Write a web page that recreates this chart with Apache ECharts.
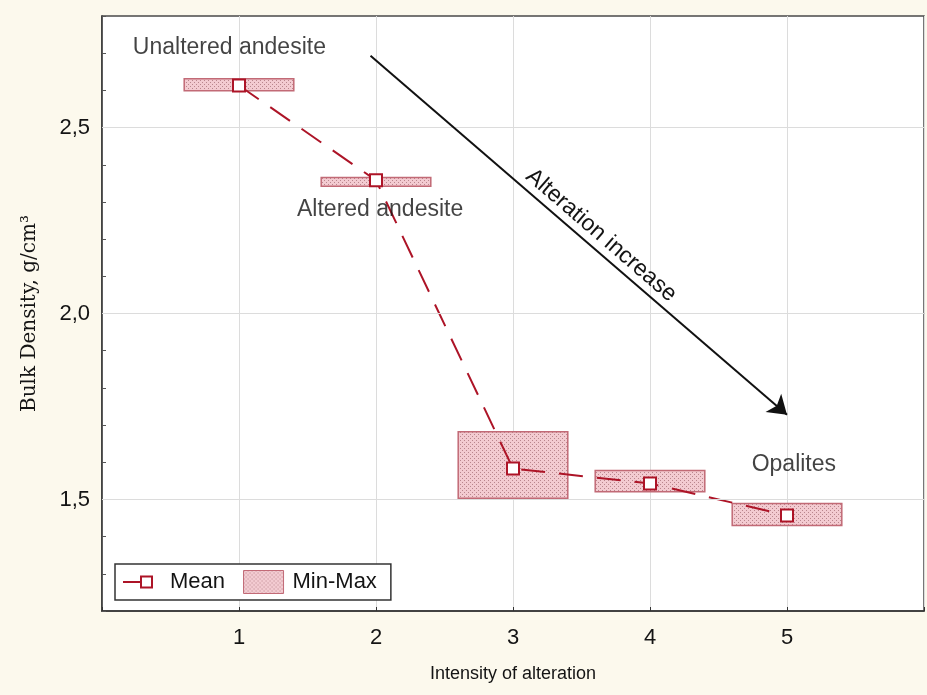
<!DOCTYPE html>
<html>
<head>
<meta charset="utf-8">
<title>Bulk density vs intensity of alteration</title>
<script src="https://cdn.jsdelivr.net/npm/echarts@6/dist/echarts.min.js"></script>
<style>
  html, body { margin: 0; padding: 0; background: #fcf9ed; }
  #chart { width: 927px; height: 695px; }
</style>
</head>
<body>
<div id="chart"></div>
<script>
// Intensity of alteration classes (1 = unaltered andesite ... 5 = opalites)
const intensity = [1, 2, 3, 4, 5];
// Bulk density, g/cm3
const meanDensity = [2.613, 2.358, 1.583, 1.543, 1.457];
const minDensity  = [2.599, 2.342, 1.503, 1.521, 1.430];
const maxDensity  = [2.631, 2.366, 1.682, 1.578, 1.489];

// Axis ticks
const xTickValues = [1, 2, 3, 4, 5];
const yTickValues = [1.5, 2.0, 2.5];
const yTickLabels = ['1,5', '2,0', '2,5'];

// Rock-type annotations [intensity, density]
const noteText = ['Unaltered andesite', 'Altered andesite', 'Opalites'];
const noteX = [0.93, 2.03, 5.05];
const noteY = [2.714, 2.278, 1.594];

// Trend arrow
const arrowText = 'Alteration increase';
const arrowFrom = [1.96, 2.693];
const arrowTo = [5.0, 1.728];

const RED = '#ad1427';
const BOX_HALF_WIDTH = 0.4;

// dotted pink fill for the min-max boxes
function makeDotPattern() {
  const c = document.createElement('canvas');
  c.width = 4; c.height = 4;
  const g = c.getContext('2d');
  g.fillStyle = '#f3cbd1';
  g.fillRect(0, 0, 4, 4);
  g.fillStyle = '#b9868d';
  g.fillRect(0, 0, 1, 1);
  g.fillRect(2, 2, 1, 1);
  return c;
}
const dotPattern = { image: makeDotPattern(), repeat: 'repeat' };

// legend glyph for the mean series: short line stub ending in a hollow square
// (the two tiny corner triangles only pin the 40x23 bounding box)
const meanIcon = 'path://M0,0 L0.01,0 L0,0.01 Z M40,23 L39.99,23 L40,22.99 Z ' +
  'M2,10.5 L19,10.5 L19,12.5 L2,12.5 Z ' +
  'M19,5 L32,5 L32,18 L19,18 Z M21,7 L21,16 L30,16 L30,7 Z';

const chart = echarts.init(document.getElementById('chart'), null, { renderer: 'canvas' });

const boxData = intensity.map((x, i) => [x, minDensity[i], maxDensity[i]]);
const meanData = intensity.map((x, i) => [x, meanDensity[i]]);
const noteData = noteText.map((t, i) => ({ name: t, value: [noteX[i], noteY[i]] }));

const sans = '"Liberation Sans", Arial, sans-serif';
const INK = '#141414';

chart.setOption({
  backgroundColor: '#fcf9ed',
  animation: false,
  textStyle: { fontFamily: sans },
  grid: {
    left: 102, right: 2, top: 16, bottom: 84,
    show: true, backgroundColor: '#ffffff',
    borderColor: '#4a4a4a', borderWidth: 1.5
  },
  legend: {
    left: 115, top: 564,
    orient: 'horizontal',
    backgroundColor: '#ffffff',
    borderColor: '#333', borderWidth: 1.5,
    borderRadius: 0,
    padding: [6, 14, 6, 6],
    itemGap: 18,
    itemWidth: 40, itemHeight: 23,
    textStyle: { fontSize: 22, color: INK, fontFamily: sans, padding: [0, 0, 0, 4] },
    data: [
      { name: 'Mean', icon: meanIcon,
        itemStyle: { color: RED, borderWidth: 0 } },
      { name: 'Min-Max', icon: 'rect',
        itemStyle: { color: dotPattern, borderColor: '#c26a76', borderWidth: 1 } }
    ]
  },
  xAxis: {
    type: 'value', min: 0, max: 6, interval: 1,
    name: 'Intensity of alteration',
    nameLocation: 'middle', nameGap: 54,
    nameTextStyle: { fontSize: 18, color: INK, fontFamily: sans },
    axisLine: { show: true, onZero: false, lineStyle: { color: '#333', width: 1.5 } },
    axisTick: { show: true, inside: true, length: 4, lineStyle: { color: '#333' } },
    axisLabel: {
      fontSize: 22, color: INK, margin: 16,
      formatter: v => xTickValues.indexOf(Math.round(v)) >= 0 ? String(Math.round(v)) : ''
    },
    splitLine: { show: true, lineStyle: { color: '#dcdcdc', width: 1 } }
  },
  yAxis: {
    type: 'value', min: 1.2, max: 2.8, interval: 0.1,
    name: 'Bulk Density, g/cm³',
    nameLocation: 'middle', nameGap: 62, nameRotate: 90,
    nameTextStyle: { fontSize: 20, color: INK, fontFamily: '"DejaVu Serif", "Liberation Serif", serif' },
    axisLine: { show: true, onZero: false, lineStyle: { color: '#333', width: 1.5 } },
    axisTick: { show: true, inside: true, length: 4, lineStyle: { color: '#555' } },
    axisLabel: {
      fontSize: 22, color: INK, margin: 12,
      formatter: v => {
        for (let i = 0; i < yTickValues.length; i++) {
          if (Math.abs(v - yTickValues[i]) < 1e-6) return yTickLabels[i];
        }
        return '';
      }
    },
    splitLine: { show: false }
  },
  series: [
    {
      name: 'Min-Max',
      type: 'custom',
      z: 2,
      itemStyle: { color: dotPattern },
      renderItem: (params, api) => {
        const x = api.value(0);
        const p0 = api.coord([x - BOX_HALF_WIDTH, api.value(2)]);
        const p1 = api.coord([x + BOX_HALF_WIDTH, api.value(1)]);
        return {
          type: 'rect',
          shape: { x: p0[0], y: p0[1], width: p1[0] - p0[0], height: p1[1] - p0[1] },
          style: { fill: dotPattern, stroke: '#c26a76', lineWidth: 1.5 }
        };
      },
      encode: { x: 0, y: [1, 2] },
      data: boxData
    },
    {
      name: 'Mean',
      type: 'line',
      z: 4,
      data: meanData,
      symbol: 'rect', symbolSize: 12,
      lineStyle: { color: RED, width: 2, type: [24, 14] },
      itemStyle: { color: '#ffffff', borderColor: RED, borderWidth: 2 }
    },
    {
      // horizontal grid lines, rock-type notes and the trend arrow
      name: 'notes',
      type: 'scatter',
      z: 5,
      symbolSize: 0,
      silent: true,
      data: noteData,
      label: {
        show: true, position: 'inside',
        formatter: p => p.name,
        fontSize: 23, color: INK, fontFamily: sans
      },
      markLine: {
        silent: true,
        symbol: 'none',
        label: { show: false },
        data: yTickValues.map(v => ({ yAxis: v, lineStyle: { color: '#dcdcdc', width: 1, type: 'solid' } }))
          .concat([[
            { coord: arrowFrom, symbol: 'none',
              lineStyle: { color: '#111', width: 2, type: 'solid' },
              label: { show: true, position: 'middle', formatter: arrowText, fontSize: 23, color: INK,
                       distance: 3, padding: [0, 0, 0, 34] } },
            { coord: arrowTo, symbol: 'arrow', symbolSize: 18 }
          ]])
      }
    }
  ]
});
</script>
</body>
</html>
